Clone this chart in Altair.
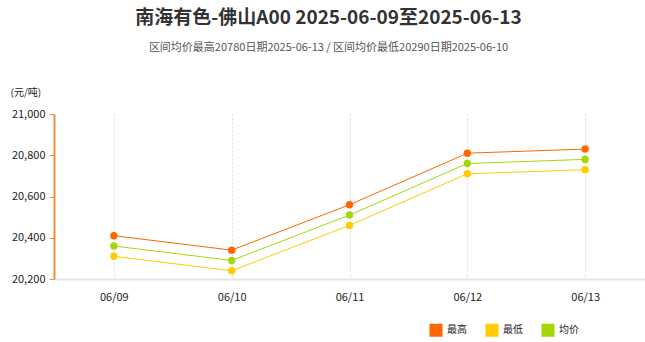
import altair as alt
import pandas as pd

dates = ["06/09", "06/10", "06/11", "06/12", "06/13"]
high = [20410, 20340, 20560, 20810, 20830]
low = [20310, 20240, 20460, 20710, 20730]
avg = [20360, 20290, 20510, 20760, 20780]
series = ["最高", "最低", "均价"]
colors = ["#ff6600", "#ffcc00", "#a6d608"]
y_ticks = [20200, 20400, 20600, 20800, 21000]

rows = []
for name, vals in zip(series, [high, low, avg]):
    for d, v in zip(dates, vals):
        rows.append({"date": d, "series": name, "value": v})
df = pd.DataFrame(rows)

font = "Noto Sans CJK SC"

chart = alt.Chart(df).mark_line(
    strokeWidth=1,
    point=alt.OverlayMarkDef(filled=True, size=55, opacity=1),
).encode(
    x=alt.X("date:N", sort=dates,
            scale=alt.Scale(type="point", padding=0.508),
            axis=alt.Axis(title=None, labelAngle=0, ticks=False, domainColor="#e6e6e6",
                          domainWidth=2, grid=True, gridDash=[2, 2], gridColor="#dddddd",
                          labelFontSize=11, labelColor="#222222", labelPadding=12, labelFont=font)),
    y=alt.Y("value:Q", scale=alt.Scale(domain=[20200, 21000], nice=False, zero=False),
            axis=alt.Axis(values=y_ticks, format=",.0f", grid=False, domainColor="#f08a3c",
                          domainWidth=2, tickColor="#f08a3c", tickSize=5, labelFontSize=11,
                          labelColor="#222222", labelPadding=4, labelFont=font,
                          title="(元/吨)", titleAngle=0, titleFontWeight="normal",
                          titleFontSize=10, titleColor="#222222", titleFont=font,
                          titleX=-44, titleY=-22, titleAlign="left", titleBaseline="middle")),
    color=alt.Color("series:N", sort=series,
                    scale=alt.Scale(domain=series, range=colors),
                    legend=alt.Legend(title=None, orient="none", direction="horizontal",
                                      legendX=375, legendY=209, symbolType="square",
                                      symbolSize=170, symbolStrokeWidth=0, labelFontSize=10,
                                      labelFont=font, labelColor="#222222", columnPadding=18,
                                      symbolOpacity=1)),
).properties(
    width=591,
    height=165,
    padding={"left": 54, "top": 114, "right": 0, "bottom": 63},
    autosize=alt.AutoSizeParams(type="none"),
    title=alt.TitleParams(
        text="南海有色-佛山A00 2025-06-09至2025-06-13",
        subtitle="区间均价最高20780日期2025-06-13 / 区间均价最低20290日期2025-06-10",
        anchor="middle", frame="group", dx=-21, offset=34,
        font=font, fontSize=19, fontWeight="bold", color="#333333",
        subtitleFont=font, subtitleFontSize=11, subtitleColor="#555555", subtitlePadding=14,
    ),
).configure_view(stroke=None)

chart.save("out.html", embed_options={"renderer": "svg", "actions": False})
